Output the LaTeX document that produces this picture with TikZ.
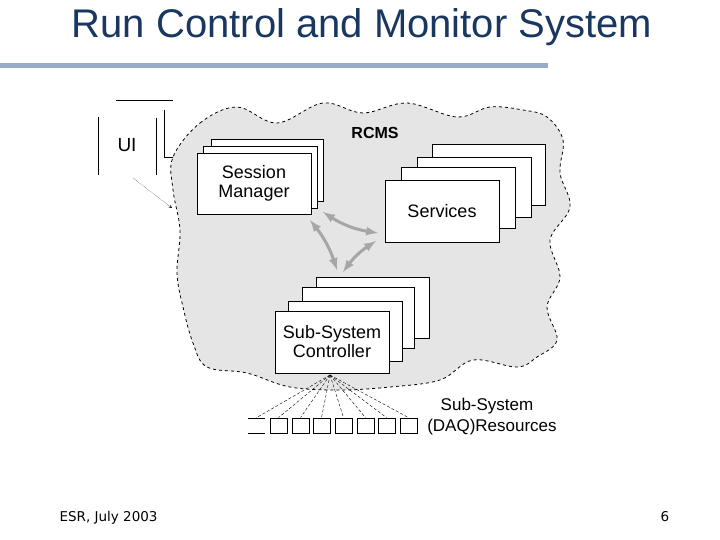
\documentclass[tikz,border=0pt]{standalone}
\usepackage{fontspec}
\setmainfont{Liberation Sans}
\newfontfamily\foot{DejaVu Sans}
\definecolor{titlec}{RGB}{25,55,95}
\definecolor{barc}{RGB}{150,172,200}
\begin{document}
\begin{tikzpicture}[x=1pt,y=-1pt,
 box/.style={draw,fill=white,line width=0.8pt,inner sep=0pt},
 lbl/.style={font=\fontsize{18}{19}\selectfont,align=center},
 garrow/.style={<->,>=latex,line width=3pt,draw=gray!70}]
\useasboundingbox (0,0) rectangle (720,540);
\node[text=titlec,font=\fontsize{40}{42}\selectfont] (title) at (362,27) {Run Control and Monitor System};
\fill[barc] (0,63.5) rectangle (548,68.5);
\node[font=\foot\fontsize{13.5}{14}\selectfont,anchor=west] (foot) at (56,518) {ESR, July 2003};
\node[font=\foot\fontsize{13.5}{14}\selectfont] (pg) at (665,517) {6};
\fill[white] (90,90) rectangle (580,440);
% cloud
\draw[dashed,line width=0.8pt,fill=gray!20] plot[smooth cycle,tension=0.6] coordinates {
(173,157)(200,123)(237,107)(277,123)(323,103)(363,113)(407,103)(457,117)(490,107)(523,110)(547,117)(563,140)
(560,173)(570,207)(550,240)(560,277)(547,307)(557,340)(537,357)(517,367)
(473,360)(440,380)(390,387)(340,390)(290,387)(247,373)(207,367)(193,343)(183,307)(177,273)(180,230)(173,190)};
\node[font=\bfseries\fontsize{16}{17}\selectfont] (rcms) at (375,133) {RCMS};
% UI
\draw[line width=0.7pt] (116,100) -- (173,100);
\draw[line width=0.7pt] (98,117) -- (98,175);
\draw[line width=0.7pt] (156,118) -- (156,175);
\draw[line width=0.7pt] (164,110) -- (164,157) -- (173,157);
\node[font=\fontsize{19}{20}\selectfont] (ui) at (127,145) {UI};
\coordinate (uia) at (133,178);
\coordinate (uib) at (172,208);
\draw[densely dotted,->,>=stealth] (uia) -- (uib);
% Session manager
\node[box,minimum width=112pt,minimum height=62pt] (sm3) at (267,170) {};
\node[box,minimum width=114pt,minimum height=62pt] (sm2) at (260,177) {};
\node[box,minimum width=114pt,minimum height=61pt,lbl] (sm) at (254,183.5) {Session\\Manager};
% services
\node[box,minimum width=113pt,minimum height=61pt] (sv4) at (488.5,174.5) {};
\node[box,minimum width=114pt,minimum height=60pt] (sv3) at (474,187) {};
\node[box,minimum width=114pt,minimum height=61pt] (sv2) at (458,197.5) {};
\node[box,minimum width=114pt,minimum height=62pt,lbl] (sv) at (442,211) {Services};
% SSC
\node[box,minimum width=113pt,minimum height=61pt] (sc4) at (372.5,307.5) {};
\node[box,minimum width=112pt,minimum height=61pt] (sc3) at (358,317.5) {};
\node[box,minimum width=114pt,minimum height=60pt] (sc2) at (345,331) {};
\node[box,minimum width=114pt,minimum height=62pt,lbl] (sc) at (332,342) {Sub-System\\Controller};
% gray arrows
\coordinate (a1) at (323,212); \coordinate (a2) at (378,233);
\coordinate (b1) at (310,220); \coordinate (b2) at (337,270);
\coordinate (c1) at (343,272); \coordinate (c2) at (376,241);
\draw[garrow] (a1) to[bend right=12] (a2);
\draw[garrow] (b1) to[bend left=10] (b2);
\draw[garrow] (c1) to[bend left=10] (c2);
% resources
\coordinate (hub) at (330,375);
\draw[line width=0.7pt] (248,418) -- (265,418) (248,433) -- (265,433);
\foreach \i/\x in {1/270,2/292,3/313,4/335,5/357,6/378,7/400}{
 \node[box,minimum width=17pt,minimum height=15pt] (r\i) at (\x+8.5,425.5) {};
 \draw[densely dashed,line width=0.4pt] (hub) -- (r\i.north);
}
\coordinate (r0) at (256,418);
\draw[densely dashed,line width=0.4pt] (hub) -- (r0);
\node[font=\fontsize{17}{18}\selectfont] (res1) at (487,406) {Sub-System};
\node[font=\fontsize{17}{18}\selectfont] (res2) at (492,427) {(DAQ)Resources};
\end{tikzpicture}
\end{document}
